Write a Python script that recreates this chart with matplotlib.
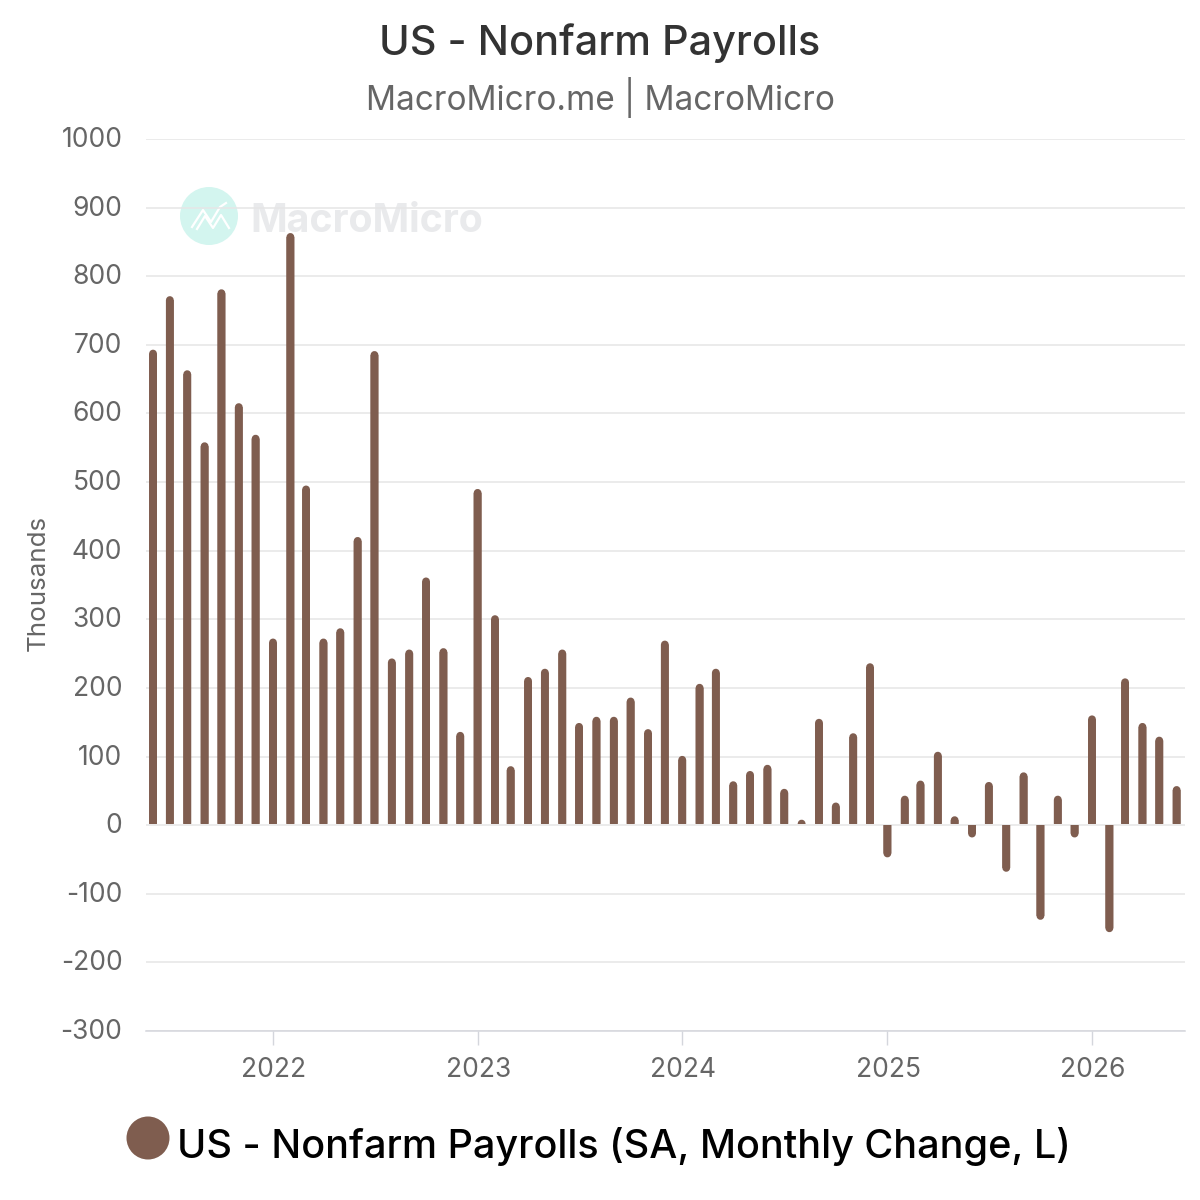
import datetime as dt
import matplotlib
matplotlib.use("Agg")
import matplotlib.pyplot as plt
import matplotlib.dates as mdates
from matplotlib.patches import Circle, Rectangle
from matplotlib.lines import Line2D
from matplotlib.transforms import ScaledTranslation
import numpy as np

plt.rcParams['font.family'] = ['Inter', 'DejaVu Sans']
plt.rcParams['axes.unicode_minus'] = False

# monthly change in payrolls, thousands, Jun 2021 to Jun 2026
start_year = 2021
start_month = 6
payrolls = [693, 771, 663, 558, 781, 615, 569,
            272, 863, 495, 272, 287, 420, 691, 243, 256, 361, 258, 136,
            490, 306, 86, 216, 228, 256, 149, 158, 158, 186, 140, 269,
            101, 206, 228, 64, 79, 88, 53, 8, 155, 33, 134, 236,
            -47, 43, 65, 107, 13, -18, 63, -68, 77, -138, 43, -18,
            160, -156, 214, 149, 129, 57]
y_ticks = list(range(-300, 1001, 100))
year_ticks = [2022, 2023, 2024, 2025, 2026]

BROWN = "#7f5d4f"
W, H = 1200, 1200


def fx(px):
    return px / W


def fy(py):
    return 1 - py / H


months = [dt.date(start_year + (start_month - 1 + i) // 12, (start_month - 1 + i) % 12 + 1, 1)
          for i in range(len(payrolls))]
x = mdates.date2num(months)
vals = np.array(payrolls, dtype=float)

fig = plt.figure(figsize=(W / 100, H / 100), dpi=100, facecolor="white")
ax = fig.add_axes([fx(146), fy(1031), (1185 - 146) / W, (1031 - 139) / H])
ax.set_zorder(1)
ax.patch.set_visible(False)

# x scale: 2022 tick at 273px, 2026 tick at 1092px
jan22 = mdates.date2num(dt.date(2022, 1, 1))
per_day = (1092 - 273) / 1461
ax.set_xlim(jan22 - (273 - 146) / per_day, jan22 + (1185 - 273) / per_day)
ax.set_ylim(-300, 1000)

# columns: flat base, rounded tip. Round-capped lines clipped at the base
bar_px = 7.8
radius = (bar_px / 2) * 1300 / (1031 - 139)
pos = vals > 0
for mask, lo, hi in [(pos, 2.0, 2000), (~pos, -2000, 0.0)]:
    inner = vals[mask] - np.sign(vals[mask]) * radius
    start = np.full(mask.sum(), lo if lo > 0 else hi)
    lines = ax.vlines(x[mask], start, inner, color=BROWN, linewidth=bar_px * 0.72,
                      capstyle="round", zorder=3)
    lines.set_snap(False)
    lines.set_clip_path(Rectangle((ax.get_xlim()[0], lo), ax.get_xlim()[1] - ax.get_xlim()[0], hi - lo,
                                  transform=ax.transData))
    # square off the base: a flat column under the cap
    bars = ax.bar(x[mask], inner - start, bottom=start, width=bar_px / per_day, color=BROWN,
                  linewidth=0, zorder=3)
    for b in bars:
        b.set_snap(False)

ax.set_yticks(y_ticks)
ax.set_xticks([mdates.date2num(dt.date(y, 1, 1)) for y in year_ticks])
ax.set_xticklabels([str(y) for y in year_ticks])
ax.grid(axis="y", color="#e6e6e6", linewidth=1.1, zorder=1)
ax.set_axisbelow(True)
for name, sp in ax.spines.items():
    sp.set_visible(name == "bottom")
ax.spines["bottom"].set_color("#d4d6dc")
ax.spines["bottom"].set_linewidth(1.1)
ax.tick_params(axis="y", length=0, pad=17, labelsize=19, labelcolor="#666666")
ax.tick_params(axis="x", length=10, width=1, color="#d4d6dc", pad=9, labelsize=19, labelcolor="#666666")

# nudge tick labels: y labels sit slightly above their gridline
up = ScaledTranslation(0, 2 / 100, fig.dpi_scale_trans)
for lab in ax.get_yticklabels():
    lab.set_transform(lab.get_transform() + up)
right = ScaledTranslation(1 / 100, 0, fig.dpi_scale_trans)
for lab in ax.get_xticklabels():
    lab.set_transform(lab.get_transform() + right)

# watermark
fig.add_artist(Circle((fx(209), fy(216)), 29 / W, transform=fig.transFigure,
                      facecolor="#d3f5ef", edgecolor="none", zorder=0))
logo_x = [192, 203, 211, 220, 226]
logo_y = [227, 210, 222, 207, 203]
fig.add_artist(Line2D([fx(p) for p in logo_x], [fy(p) for p in logo_y], color="white",
                      linewidth=1.6, zorder=0))
logo_x2 = [197, 205, 213, 221, 229]
logo_y2 = [229, 216, 228, 215, 228]
fig.add_artist(Line2D([fx(p) for p in logo_x2], [fy(p) for p in logo_y2], color="white",
                      linewidth=1.6, zorder=0))
fig.text(fx(250), fy(221), "MacroMicro", fontsize=28.3, fontweight="bold", color="#e9eaec",
         ha="left", va="center", zorder=0)

fig.text(fx(600), fy(43), "US - Nonfarm Payrolls", fontsize=29.8, fontweight="medium",
         color="#333333", ha="center", va="center")
fig.text(fx(600), fy(97), "MacroMicro.me | MacroMicro", fontsize=24, color="#666666", ha="center", va="center")
fig.text(fx(38), fy(583), "Thousands", fontsize=18.7, color="#666666", rotation=90, ha="center", va="center")

# legend row
fig.add_artist(Circle((fx(148), fy(1138)), 21.5 / W, transform=fig.transFigure,
                      facecolor=BROWN, edgecolor="none"))
fig.text(fx(177), fy(1146), "US - Nonfarm Payrolls (SA, Monthly Change, L)", fontsize=28.5,
         fontweight="medium", color="#000000", ha="left", va="center")

fig.savefig("out.png", dpi=100, facecolor="white")
